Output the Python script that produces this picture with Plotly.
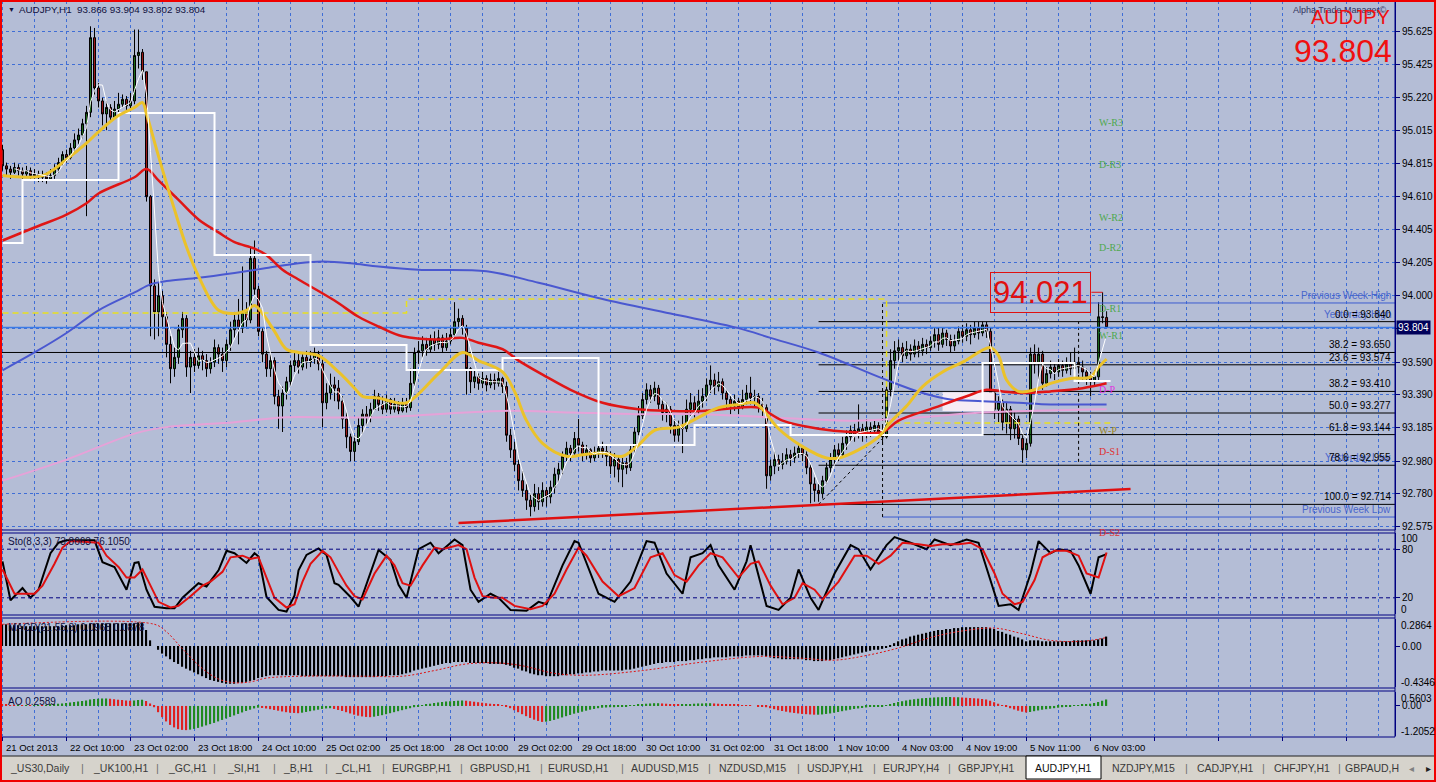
import plotly.graph_objects as go

# ---------------------------------------------------------------- data
symbol = "AUDJPY,H1"
title_values = "93.866 93.904 93.802 93.804"

time_labels = ["21 Oct 2013", "22 Oct 10:00", "23 Oct 02:00", "23 Oct 18:00", "24 Oct 10:00",
               "25 Oct 02:00", "25 Oct 18:00", "28 Oct 10:00", "29 Oct 02:00", "29 Oct 18:00",
               "30 Oct 10:00", "31 Oct 02:00", "31 Oct 18:00", "1 Nov 10:00", "4 Nov 03:00",
               "4 Nov 19:00", "5 Nov 11:00", "6 Nov 03:00"]
time_label_bars = [0, 16, 32, 48, 64, 80, 96, 112, 128, 144, 160, 176, 192, 208, 224, 240, 256, 272]

price_ticks = [95.625, 95.425, 95.220, 95.015, 94.815, 94.610, 94.405, 94.205, 94.000,
               93.795, 93.590, 93.390, 93.185, 92.980, 92.780, 92.575]
price_tick_text = ["95.625", "95.425", "95.220", "95.015", "94.815", "94.610", "94.405", "94.205",
                   "94.000", "", "93.590", "93.390", "93.185", "92.980", "92.780", "92.575"]

first_open = 94.90
close = [
    94.80, 94.78, 94.76, 94.79, 94.77, 94.75, 94.77, 94.74, 94.75, 94.73,
    94.74, 94.72, 94.74, 94.78, 94.82, 94.87, 94.85, 94.91, 94.96, 94.99,
    95.06, 95.13, 95.59, 95.28, 95.20, 95.12, 95.16, 95.10, 95.15, 95.18,
    95.21, 95.17, 95.20, 95.48, 95.50, 95.38, 94.61, 94.06, 93.90, 94.00,
    93.87, 93.70, 93.55, 93.62, 93.79, 93.86, 93.56, 93.62, 93.57, 93.63,
    93.60, 93.55, 93.59, 93.68, 93.64, 93.60, 93.70, 93.79, 93.85, 93.80,
    93.90, 93.85, 94.23, 94.04, 93.78, 93.64, 93.55, 93.60, 93.38, 93.32,
    93.40, 93.47, 93.57, 93.60, 93.56, 93.62, 93.59, 93.61, 93.64, 93.58,
    93.34, 93.40, 93.45, 93.43, 93.35, 93.24, 93.13, 93.04, 93.10, 93.20,
    93.27, 93.25, 93.30, 93.38, 93.33, 93.30, 93.36, 93.30, 93.33, 93.29,
    93.34, 93.31, 93.46, 93.65, 93.66, 93.70, 93.67, 93.73, 93.70, 93.74,
    93.68, 93.72, 93.76, 93.84, 93.86, 93.80, 93.55, 93.47, 93.50, 93.46,
    93.49, 93.45, 93.48, 93.46, 93.49, 93.44, 93.14, 93.05, 92.96, 92.86,
    92.80, 92.74, 92.70, 92.78, 92.73, 92.80, 92.76, 92.82, 92.90, 92.93,
    93.01, 93.06, 93.03, 93.12, 93.08, 93.02, 93.05, 93.00, 93.03, 93.06,
    93.04, 93.01, 92.95, 92.99, 92.93, 92.97, 92.94, 93.05, 93.16, 93.26,
    93.36, 93.42, 93.38, 93.43, 93.33, 93.28, 93.30, 93.20, 93.14, 93.20,
    93.18, 93.30, 93.34, 93.29, 93.35, 93.38, 93.45, 93.48, 93.44, 93.47,
    93.40, 93.36, 93.32, 93.35, 93.31, 93.36, 93.40, 93.37, 93.38, 93.33,
    93.31, 92.89, 92.95, 92.99, 92.96, 92.98, 93.02, 93.00, 93.03, 93.06,
    93.02, 92.94, 92.84, 92.80, 92.78, 92.86, 92.94, 92.99, 93.05, 93.02,
    93.09, 93.13, 93.17, 93.14, 93.18, 93.15, 93.19, 93.17, 93.20, 93.16,
    93.13, 93.42, 93.60, 93.66, 93.68, 93.63, 93.67, 93.64, 93.69, 93.66,
    93.70, 93.68, 93.72, 93.76, 93.70, 93.77, 93.73, 93.69, 93.72, 93.78,
    93.75, 93.79, 93.76, 93.80, 93.77, 93.82, 93.78, 93.40, 93.30, 93.34,
    93.22, 93.30, 93.18, 93.24, 93.12, 93.05, 93.09, 93.64, 93.58, 93.64,
    93.46, 93.52, 93.56, 93.53, 93.57, 93.54, 93.58, 93.55, 93.59, 93.56,
    93.53, 93.50, 93.47, 93.50, 93.87, 93.866, 93.804]
high = [
    94.93, 94.82, 94.80, 94.82, 94.81, 94.79, 94.80, 94.79, 94.78, 94.77,
    94.77, 94.76, 94.78, 94.81, 94.85, 94.89, 94.90, 94.94, 95.00, 95.03,
    95.09, 95.17, 95.66, 95.65, 95.31, 95.22, 95.20, 95.18, 95.20, 95.25,
    95.24, 95.23, 95.25, 95.64, 95.64, 95.52, 95.38, 94.62, 94.10, 94.08,
    94.03, 93.90, 93.75, 93.68, 93.82, 93.90, 93.88, 93.66, 93.67, 93.68,
    93.66, 93.64, 93.62, 93.73, 93.70, 93.68, 93.73, 93.84, 93.90, 93.98,
    94.18, 93.96, 94.30, 94.34, 94.06, 93.80, 93.66, 93.64, 93.62, 93.42,
    93.44, 93.50, 93.60, 93.66, 93.64, 93.65, 93.66, 93.66, 93.68, 93.66,
    93.62, 93.46, 93.52, 93.50, 93.48, 93.38, 93.28, 93.15, 93.14, 93.25,
    93.30, 93.32, 93.34, 93.42, 93.40, 93.38, 93.39, 93.37, 93.37, 93.35,
    93.37, 93.37, 93.55, 93.68, 93.72, 93.75, 93.74, 93.76, 93.78, 93.79,
    93.76, 93.77, 93.80, 93.96, 93.92, 93.88, 93.82, 93.56, 93.54, 93.52,
    93.53, 93.51, 93.52, 93.52, 93.53, 93.50, 93.47, 93.18, 93.10, 92.99,
    92.92, 92.84, 92.78, 92.84, 92.82, 92.85, 92.82, 92.86, 92.94, 92.97,
    93.04, 93.10, 93.08, 93.16, 93.24, 93.10, 93.08, 93.06, 93.07, 93.09,
    93.10, 93.08, 93.04, 93.03, 93.01, 93.00, 93.00, 93.08, 93.19, 93.32,
    93.40, 93.46, 93.45, 93.47, 93.45, 93.36, 93.34, 93.32, 93.24, 93.23,
    93.26, 93.36, 93.40, 93.38, 93.42, 93.43, 93.49, 93.57, 93.52, 93.53,
    93.49, 93.42, 93.38, 93.39, 93.37, 93.42, 93.45, 93.50, 93.42, 93.40,
    93.37, 93.33, 92.99, 93.04, 93.02, 93.03, 93.06, 93.05, 93.07, 93.09,
    93.08, 93.04, 92.96, 92.88, 92.84, 92.89, 92.97, 93.03, 93.08, 93.09,
    93.13, 93.17, 93.20, 93.21, 93.33, 93.21, 93.24, 93.22, 93.24, 93.22,
    93.20, 93.45, 93.67, 93.72, 93.73, 93.71, 93.72, 93.70, 93.73, 93.72,
    93.74, 93.73, 93.75, 93.80, 93.80, 93.80, 93.79, 93.76, 93.76, 93.81,
    93.82, 93.83, 93.82, 93.84, 93.84, 93.84, 93.84, 93.80, 93.42, 93.38,
    93.36, 93.34, 93.32, 93.28, 93.26, 93.14, 93.12, 93.68, 93.70, 93.68,
    93.66, 93.56, 93.60, 93.59, 93.61, 93.60, 93.62, 93.65, 93.68, 93.62,
    93.60, 93.55, 93.53, 93.54, 93.96, 94.021, 93.904]
low = [
    94.77, 94.74, 94.72, 94.75, 94.74, 94.66, 94.73, 94.71, 94.72, 94.70,
    94.70, 94.69, 94.71, 94.72, 94.76, 94.80, 94.82, 94.84, 94.89, 94.93,
    94.97, 94.49, 95.10, 95.24, 95.16, 95.05, 95.02, 95.07, 95.09, 95.13,
    95.16, 95.14, 95.15, 95.18, 95.40, 95.33, 94.58, 93.75, 93.73, 93.75,
    93.80, 93.62, 93.46, 93.50, 93.58, 93.74, 93.50, 93.40, 93.53, 93.55,
    93.54, 93.50, 93.52, 93.56, 93.58, 93.53, 93.56, 93.66, 93.74, 93.70,
    93.77, 93.80, 93.83, 94.00, 93.75, 93.59, 93.50, 93.50, 93.33, 93.18,
    93.16, 93.36, 93.44, 93.53, 93.52, 93.54, 93.55, 93.56, 93.58, 93.54,
    93.19, 93.30, 93.36, 93.35, 93.30, 93.18, 93.06, 92.98, 92.98, 93.08,
    93.15, 93.20, 93.22, 93.30, 93.29, 93.27, 93.28, 93.27, 93.28, 93.27,
    93.28, 93.28, 93.29, 93.44, 93.58, 93.62, 93.63, 93.65, 93.66, 93.67,
    93.65, 93.66, 93.70, 93.74, 93.80, 93.76, 93.39, 93.40, 93.43, 93.42,
    93.43, 93.41, 93.43, 93.42, 93.44, 93.40, 93.10, 93.00, 92.92, 92.80,
    92.76, 92.68, 92.64, 92.67, 92.68, 92.70, 92.70, 92.72, 92.78, 92.85,
    92.90, 92.98, 92.98, 93.02, 93.04, 92.98, 92.99, 92.97, 92.98, 93.00,
    93.00, 92.95, 92.90, 92.88, 92.85, 92.82, 92.90, 92.92, 93.03, 93.14,
    93.24, 93.33, 93.34, 93.35, 93.30, 93.23, 93.22, 93.15, 93.10, 93.10,
    93.03, 93.16, 93.26, 93.25, 93.27, 93.31, 93.35, 93.40, 93.39, 93.41,
    93.36, 93.30, 93.27, 93.29, 93.27, 93.30, 93.33, 93.33, 93.32, 93.28,
    93.25, 92.81, 92.86, 92.90, 92.92, 92.93, 92.96, 92.95, 92.97, 93.00,
    92.98, 92.90, 92.72, 92.73, 92.73, 92.75, 92.84, 92.91, 92.96, 92.98,
    93.00, 93.05, 93.10, 93.10, 93.12, 93.10, 93.12, 93.13, 93.14, 93.12,
    93.08, 93.12, 93.38, 93.55, 93.60, 93.59, 93.61, 93.60, 93.62, 93.62,
    93.63, 93.64, 93.66, 93.68, 93.66, 93.68, 93.69, 93.65, 93.66, 93.70,
    93.71, 93.72, 93.70, 93.74, 93.73, 93.75, 93.74, 93.36, 93.24, 93.22,
    93.17, 93.15, 93.11, 93.12, 93.08, 92.97, 93.00, 93.07, 93.52, 93.48,
    93.42, 93.44, 93.49, 93.48, 93.50, 93.50, 93.52, 93.51, 93.53, 93.52,
    93.48, 93.45, 93.38, 93.44, 93.47, 93.83, 93.802]

# moving averages (bar index, price)
yellow_bar = [0, 10, 16, 21, 24, 29, 33, 35, 36, 39, 43, 46, 49, 54, 58, 61, 63, 65, 68, 71, 74, 79,
              84, 88, 90, 94, 97, 101, 109, 115, 119, 125, 128, 131, 135, 141, 145, 150, 155, 159,
              163, 169, 174, 179, 184, 188, 190, 194, 200, 206, 209, 214, 219, 222, 226, 230, 235,
              240, 247, 249, 251, 254, 258, 262, 267, 272, 274, 276]
yellow_val = [94.74, 94.74, 94.84, 94.94, 95.01, 95.11, 95.16, 95.19, 95.12, 94.86, 94.53, 94.30,
              94.12, 93.91, 93.89, 93.91, 93.94, 93.89, 93.78, 93.67, 93.65, 93.63, 93.53, 93.43,
              93.38, 93.37, 93.35, 93.34, 93.52, 93.65, 93.60, 93.53, 93.41, 93.23, 93.09, 93.01,
              93.02, 93.03, 93.01, 93.08, 93.17, 93.19, 93.25, 93.31, 93.33, 93.34, 93.30, 93.18,
              93.07, 93.00, 93.00, 93.05, 93.13, 93.22, 93.32, 93.44, 93.53, 93.59, 93.68, 93.63,
              93.48, 93.41, 93.42, 93.46, 93.49, 93.50, 93.56, 93.61]
red_bar = [0, 8, 16, 21, 24, 33, 36, 39, 44, 49, 54, 58, 63, 66, 70, 74, 83, 89, 94, 100, 109, 115,
           119, 125, 129, 136, 142, 150, 159, 167, 175, 184, 189, 195, 204, 212, 220, 224, 233, 241,
           246, 250, 255, 262, 270, 276]
red_val = [94.34, 94.42, 94.50, 94.57, 94.63, 94.73, 94.78, 94.71, 94.59, 94.47, 94.39, 94.33, 94.29,
           94.25, 94.16, 94.10, 93.97, 93.87, 93.81, 93.75, 93.73, 93.74, 93.71, 93.67, 93.60, 93.50,
           93.42, 93.34, 93.30, 93.29, 93.29, 93.31, 93.31, 93.23, 93.18, 93.16, 93.16, 93.23, 93.31,
           93.38, 93.42, 93.41, 93.40, 93.41, 93.43, 93.46]
blue_bar = [0, 8, 16, 24, 33, 37, 41, 49, 58, 66, 74, 80, 87, 94, 104, 121, 134, 150, 167, 184, 192,
            204, 220, 230, 237, 245, 254, 262, 276]
blue_val = [93.54, 93.65, 93.77, 93.91, 94.02, 94.07, 94.09, 94.11, 94.14, 94.17, 94.20, 94.21, 94.20,
            94.18, 94.16, 94.15, 94.08, 93.98, 93.89, 93.80, 93.74, 93.65, 93.49, 93.40, 93.36, 93.35,
            93.34, 93.33, 93.33]
pink_bar = [0, 16, 33, 41, 58, 70, 83, 94, 125, 142, 159, 175, 192, 212, 229, 245, 276]
pink_val = [92.86, 92.99, 93.15, 93.19, 93.22, 93.25, 93.25, 93.25, 93.29, 93.28, 93.27, 93.27, 93.25,
            93.23, 93.25, 93.28, 93.30]

# daily level (white step line) and weekly pivot (yellow dashed)
day_start = [0, 5, 29, 53, 77, 101, 125, 149, 173, 197, 221, 245, 268]
day_level = [94.325, 94.713, 95.126, 94.251, 93.696, 93.542, 93.616, 93.080, 93.203, 93.142, 93.142,
             93.585, 93.474]
week_start = [0, 101, 221]
week_pivot = [93.893, 93.980, 93.216]

# Fibonacci levels
fib_names = ["0.0", "38.2", "23.6", "38.2", "50.0", "61.8", "78.6", "100.0"]
fib_levels = [93.840, 93.650, 93.574, 93.410, 93.277, 93.144, 92.955, 92.714]
fib_start = [204, -1, 204, 204, 204, 204, 204, 204]
yesterday_high = 93.840
yesterday_low = 92.955
prev_week_high = 93.955
prev_week_low = 92.636
week_open_bar = 220

# pivot labels
pivot_names = ["W-R3", "D-R3", "W-R2", "D-R2", "D-R1", "W-R1", "D-P", "W-P", "D-S1", "D-S2"]
pivot_levels = [95.114, 94.855, 94.528, 94.343, 93.967, 93.801, 93.468, 93.216, 93.086, 92.587]
pivot_colors = ["#4FA84F", "#4FA84F", "#4FA84F", "#4FA84F", "#4FA84F", "#4FA84F", "#E030E0",
                "#9A8420", "#E03030", "#E03030"]

# trend lines / objects
trend_bar = [114, 282]
trend_val = [92.599, 92.809]
fibline_bar = [204, 220]
fibline_val = [92.714, 93.120]
vline_bar = [220, 269]
vline_top = [93.955, 93.840]
vline_bot = [92.636, 92.976]
box_bar = [235, 248]
box_val = [93.290, 93.405]
price_label_bar = 275

# Stochastic (8,3,3)
sto_bar = [0, 2, 5, 7, 9, 12, 14, 16, 23, 25, 28, 29, 31, 33, 34, 36, 38, 41, 43, 45, 49, 51, 54, 56,
           58, 61, 63, 64, 66, 69, 71, 73, 74, 76, 79, 81, 83, 84, 87, 89, 91, 94, 97, 99, 101, 104,
           107, 109, 113, 115, 117, 119, 122, 124, 127, 131, 134, 136, 140, 143, 144, 149, 153, 157,
           161, 163, 166, 170, 172, 175, 177, 179, 183, 186, 187, 191, 194, 197, 199, 202, 204, 208,
           212, 214, 217, 221, 223, 227, 231, 233, 237, 241, 244, 247, 249, 252, 254, 257, 259, 262,
           264, 267, 269, 272, 274, 276]
sto_main = [65, 17, 32, 20, 30, 75, 88, 91, 91, 64, 58, 48, 30, 63, 64, 30, 9, 7, 7, 20, 38, 34, 54,
            78, 75, 63, 75, 71, 21, 5, 3, 23, 54, 73, 81, 73, 38, 36, 21, 9, 38, 79, 67, 36, 20, 80,
            88, 75, 92, 85, 30, 15, 25, 20, 5, 4, 15, 12, 60, 90, 88, 25, 15, 40, 90, 88, 50, 25, 70,
            75, 85, 60, 30, 65, 85, 10, 5, 20, 55, 20, 5, 50, 85, 80, 55, 85, 95, 88, 80, 92, 85, 92,
            88, 40, 10, 12, 5, 50, 90, 75, 80, 78, 60, 25, 70, 74]
sig_bar = [0, 3, 6, 8, 10, 13, 15, 17, 24, 26, 29, 31, 33, 35, 37, 39, 42, 44, 47, 50, 52, 55, 57, 60,
           62, 64, 66, 68, 71, 73, 75, 77, 80, 82, 84, 86, 88, 90, 93, 96, 98, 100, 102, 105, 108,
           110, 114, 116, 118, 120, 123, 125, 128, 132, 135, 138, 141, 144, 146, 150, 154, 158, 162,
           165, 168, 171, 174, 177, 180, 184, 187, 189, 192, 195, 198, 200, 203, 205, 209, 213, 216,
           219, 222, 225, 229, 232, 235, 239, 242, 245, 248, 250, 253, 255, 258, 260, 263, 266, 269,
           271, 274, 276]
sto_signal = [55, 25, 25, 25, 35, 62, 82, 90, 88, 72, 58, 45, 45, 55, 35, 15, 8, 10, 22, 35, 40, 52,
              70, 72, 68, 70, 45, 20, 8, 12, 40, 62, 78, 70, 52, 35, 22, 18, 50, 72, 60, 38, 35, 60,
              82, 80, 85, 80, 45, 22, 20, 20, 10, 6, 10, 25, 55, 82, 72, 40, 22, 32, 70, 75, 48, 40,
              60, 75, 70, 45, 62, 65, 35, 12, 20, 38, 30, 18, 40, 72, 72, 62, 72, 88, 86, 84, 86, 86,
              88, 80, 50, 25, 12, 15, 42, 70, 78, 78, 72, 50, 45, 76]

# MACD (21,55,8) main histogram, one value per bar
macd_main = [
    0.23, 0.23, 0.22, 0.22, 0.22, 0.21, 0.21, 0.21, 0.21, 0.21, 0.21, 0.21, 0.21, 0.21, 0.21, 0.22,
    0.22, 0.22, 0.22, 0.23, 0.23, 0.23, 0.24, 0.24, 0.24, 0.24, 0.24, 0.24, 0.24, 0.24, 0.24, 0.24,
    0.24, 0.24, 0.25, 0.25,
    0.17, 0.06, 0.00, -0.04, -0.08, -0.11, -0.14, -0.17, -0.19, -0.22, -0.24, -0.26, -0.28, -0.30,
    -0.32, -0.34, -0.36, -0.37, -0.38, -0.39, -0.40, -0.40, -0.40, -0.39, -0.39, -0.38, -0.37, -0.36,
    -0.34, -0.33, -0.32, -0.31, -0.31, -0.31,
    -0.31, -0.31, -0.31, -0.31, -0.31, -0.32, -0.32, -0.32, -0.32, -0.32, -0.32, -0.32, -0.32, -0.32,
    -0.32, -0.32, -0.33, -0.33, -0.33, -0.33, -0.33, -0.33, -0.33, -0.33, -0.32, -0.32, -0.32, -0.31,
    -0.31, -0.31,
    -0.30, -0.29, -0.28, -0.26, -0.25, -0.24, -0.23, -0.22, -0.21, -0.20, -0.19, -0.18, -0.18, -0.17,
    -0.17, -0.17, -0.17, -0.18, -0.18, -0.18, -0.18, -0.18, -0.19, -0.19, -0.19, -0.19,
    -0.20, -0.21, -0.23, -0.24, -0.26, -0.27, -0.29, -0.30, -0.31, -0.31, -0.32, -0.32, -0.32, -0.32,
    -0.31, -0.31, -0.30, -0.30, -0.29, -0.29, -0.28, -0.28, -0.27, -0.27, -0.26,
    -0.26, -0.26, -0.26, -0.26, -0.26, -0.25, -0.25, -0.24, -0.23, -0.22, -0.21, -0.20, -0.19, -0.18,
    -0.18, -0.17, -0.17, -0.17, -0.16, -0.16, -0.16, -0.15, -0.15, -0.14, -0.14, -0.13, -0.13, -0.12,
    -0.12, -0.12, -0.12, -0.11, -0.11, -0.11, -0.11, -0.10, -0.10, -0.10, -0.10, -0.10,
    -0.11, -0.12, -0.13, -0.13, -0.14, -0.14, -0.14, -0.14, -0.14, -0.14, -0.15, -0.15, -0.16, -0.16,
    -0.16, -0.15, -0.15, -0.14, -0.13, -0.12, -0.11, -0.10, -0.09, -0.08, -0.07, -0.06, -0.05, -0.04,
    -0.04, -0.03, -0.02, 0.01,
    0.03, 0.05, 0.07, 0.08, 0.10, 0.11, 0.12, 0.13, 0.14, 0.15, 0.16, 0.17, 0.17, 0.18, 0.18, 0.19,
    0.19, 0.20, 0.20, 0.20, 0.20, 0.20, 0.20, 0.20, 0.19,
    0.18, 0.16, 0.15, 0.13, 0.12, 0.10, 0.09, 0.07, 0.05, 0.06, 0.06, 0.06, 0.05, 0.05, 0.05, 0.05,
    0.05, 0.05, 0.05, 0.05, 0.06, 0.06, 0.06, 0.06, 0.06, 0.06, 0.07, 0.08, 0.10]
macd_sig_bar = [0, 38, 41, 45, 50, 54, 58, 62, 66, 75, 90, 100, 108, 116, 124, 130, 138, 146, 160,
                175, 190, 200, 208, 216, 224, 232, 240, 248, 255, 262, 270, 276]
macd_signal = [0.23, 0.23, 0.15, -0.03, -0.24, -0.35, -0.39, -0.38, -0.34, -0.32, -0.32, -0.32, -0.26,
               -0.19, -0.18, -0.21, -0.29, -0.31, -0.26, -0.17, -0.11, -0.13, -0.15, -0.10, -0.02,
               0.09, 0.16, 0.19, 0.13, 0.06, 0.05, 0.09]

# Awesome Oscillator, one value per bar
ao_vals = [
    0.05, 0.04, 0.03, 0.02, 0.03, 0.02, 0.02, 0.01, 0.02, 0.03, 0.02, 0.03, 0.05, 0.07, 0.09, 0.10,
    0.12, 0.14, 0.16, 0.18, 0.20,
    0.22, 0.26, 0.28, 0.29, 0.30, 0.30, 0.29, 0.27, 0.25, 0.24, 0.22, 0.21, 0.22, 0.24, 0.25, 0.20,
    0.10,
    -0.05, -0.25, -0.45, -0.62, -0.76, -0.86, -0.93, -0.96, -0.97,
    -0.95, -0.92, -0.88, -0.83, -0.78, -0.73, -0.68, -0.62, -0.56, -0.50, -0.44, -0.38, -0.32, -0.26,
    -0.20, -0.15, -0.10, -0.07,
    -0.08, -0.10, -0.13, -0.16, -0.19, -0.22, -0.25, -0.27, -0.28, -0.29,
    -0.27, -0.24, -0.21, -0.18, -0.15, -0.12, -0.10, -0.09,
    -0.12, -0.16, -0.20, -0.25, -0.30, -0.35, -0.39, -0.42, -0.44, -0.45,
    -0.43, -0.40, -0.37, -0.33, -0.29, -0.25, -0.21, -0.17,
    -0.13, -0.09, -0.05, -0.01, 0.03, 0.06, 0.09, 0.12, 0.14, 0.16, 0.18, 0.19, 0.20, 0.21, 0.22,
    0.21, 0.19, 0.17, 0.15, 0.13, 0.11, 0.09, 0.07, 0.05, 0.03,
    -0.02, -0.09, -0.17, -0.25, -0.33, -0.41, -0.48, -0.55, -0.60, -0.64,
    -0.63, -0.60, -0.56, -0.51, -0.46, -0.41, -0.36, -0.31, -0.27, -0.23, -0.19, -0.15, -0.12, -0.09,
    -0.07,
    -0.06, -0.05, -0.05, -0.04, -0.03, -0.01, 0.01, 0.03, 0.05, 0.07, 0.09, 0.10, 0.11, 0.11, 0.10,
    0.09, 0.08, 0.07, 0.06, 0.06, 0.07, 0.08, 0.09, 0.10, 0.10,
    0.11, 0.11, 0.10, 0.09, 0.08, 0.07, 0.06, 0.05, 0.04, 0.03, 0.02, 0.01, 0.00, -0.01, -0.02,
    -0.05, -0.09, -0.13, -0.17, -0.20, -0.23, -0.26, -0.28, -0.30, -0.32, -0.33, -0.34, -0.35, -0.35,
    -0.34,
    -0.32, -0.30, -0.27, -0.24, -0.21, -0.18, -0.15, -0.12, -0.10, -0.08, -0.06, -0.04, -0.03, -0.02,
    -0.01,
    0.03, 0.08, 0.12, 0.16, 0.19, 0.22, 0.25, 0.27, 0.29, 0.31, 0.32, 0.33, 0.34, 0.35, 0.35, 0.36,
    0.36, 0.35, 0.35, 0.34,
    0.33, 0.32, 0.31, 0.30, 0.28, 0.26, 0.21, 0.15, 0.09, 0.03, -0.03, -0.09, -0.14, -0.19, -0.23,
    -0.26,
    -0.24, -0.21, -0.18, -0.15, -0.13, -0.11, -0.09, -0.07, -0.05, -0.03, -0.01, 0.01, 0.03, 0.05,
    0.07, 0.09, 0.12, 0.16, 0.21, 0.26]

sto_label = "Sto(8,3,3) 73.8663 76.1050"
macd_label = "MACD(21,55,8) 0.0968 0.0878"
ao_label = "AO 0.2589"
macd_max, macd_min = 0.2864, -0.4346
ao_max, ao_min = 0.5603, -1.2052

tab_names = ["_US30,Daily", "_UK100,H1", "_GC,H1", "_SI,H1", "_B,H1", "_CL,H1", "EURGBP,H1",
             "GBPUSD,H1", "EURUSD,H1", "AUDUSD,M15", "NZDUSD,M15", "USDJPY,H1", "EURJPY,H4",
             "GBPJPY,H1", "AUDJPY,H1", "NZDJPY,M15", "CADJPY,H1", "CHFJPY,H1", "GBPAUD,H"]
active_tab = "AUDJPY,H1"

# ---------------------------------------------------------------- layout constants
W, H = 1436, 782
BG = "#B4BDD6"
GRID = "#3F6ED6"
NAVY = "#000080"
FONT = "Liberation Sans, Arial, sans-serif"
SERIF = "Liberation Serif, Times New Roman, serif"
PLOT_R = 1395
XR = [-0.625, 348.1]
tab_centers = [40, 120, 187, 243, 298, 353, 421, 500, 578, 665, 752, 835, 912, 987, 1063, 1143,
               1225, 1302, 1372]
tab_seps = [82, 157, 215, 274, 326, 383, 461, 541, 622, 709, 798, 874, 949, 1186, 1263, 1339]


def fx(px):
    return px / W


def fy(py):
    return 1 - py / H


n = len(close)
bars = list(range(n))
opens = [first_open] + close[:-1]

fig = go.Figure()

# ---- horizontal objects (behind candles)
for lvl, st in zip(fib_levels, fib_start):
    fig.add_trace(go.Scatter(x=[st, 360], y=[lvl, lvl], mode="lines",
                             line=dict(color="black", width=1), xaxis="x", yaxis="y"))
for lvl in (prev_week_high, prev_week_low):
    fig.add_trace(go.Scatter(x=[week_open_bar, 360], y=[lvl, lvl], mode="lines",
                             line=dict(color="#3B5BD0", width=1), xaxis="x", yaxis="y"))
wx = week_start + [278]
wy = week_pivot + [week_pivot[-1]]
fig.add_trace(go.Scatter(x=wx, y=wy, mode="lines", line=dict(color="#E8E020", width=1.5, dash="6px,4px",
                                                              shape="hv"), xaxis="x", yaxis="y"))
for b, t, bt in zip(vline_bar, vline_top, vline_bot):
    fig.add_trace(go.Scatter(x=[b, b], y=[bt, t], mode="lines",
                             line=dict(color="black", width=1, dash="3px,3px"), xaxis="x", yaxis="y"))
fig.add_trace(go.Scatter(x=fibline_bar, y=fibline_val, mode="lines",
                         line=dict(color="black", width=1, dash="3px,3px"), xaxis="x", yaxis="y"))
fig.add_trace(go.Scatter(x=[-1, 360], y=[close[-1], close[-1]], mode="lines",
                         line=dict(color="#3C7BE6", width=1.5), xaxis="x", yaxis="y"))
fig.add_trace(go.Scatter(x=[box_bar[0], box_bar[1], box_bar[1], box_bar[0], box_bar[0]],
                         y=[box_val[0], box_val[0], box_val[1], box_val[1], box_val[0]],
                         mode="lines", fill="toself", fillcolor="#F6ECF4", line=dict(width=0),
                         xaxis="x", yaxis="y"))

# ---- candles
fig.add_trace(go.Candlestick(
    x=bars, open=opens, high=high, low=low, close=close,
    increasing=dict(fillcolor="#1D6E1D", line=dict(color="black", width=1)),
    decreasing=dict(fillcolor="#A01A1A", line=dict(color="black", width=1)),
    whiskerwidth=0, xaxis="x", yaxis="y", hoverinfo="skip"))

# ---- indicators on price
fig.add_trace(go.Scatter(x=pink_bar, y=pink_val, mode="lines",
                         line=dict(color="#E6A2D8", width=2, shape="spline"), xaxis="x", yaxis="y"))
fig.add_trace(go.Scatter(x=blue_bar, y=blue_val, mode="lines",
                         line=dict(color="#4A58D0", width=2, shape="spline"), xaxis="x", yaxis="y"))
fig.add_trace(go.Scatter(x=red_bar, y=red_val, mode="lines",
                         line=dict(color="#E01616", width=2.5, shape="spline"), xaxis="x", yaxis="y"))
dx = day_start + [n]
dy = day_level + [day_level[-1]]
fig.add_trace(go.Scatter(x=dx, y=dy, mode="lines", line=dict(color="white", width=2, shape="hv"),
                         xaxis="x", yaxis="y"))
fig.add_trace(go.Scatter(x=yellow_bar, y=yellow_val, mode="lines",
                         line=dict(color="#EBC22A", width=3, shape="spline"), xaxis="x", yaxis="y"))
# thin white fast moving average of closes (4 bars)
fast_x = list(range(3, n))
fast_y = [sum(close[i - 3:i + 1]) / 4 for i in fast_x]
fig.add_trace(go.Scatter(x=fast_x, y=fast_y, mode="lines", line=dict(color="white", width=1),
                         xaxis="x", yaxis="y"))
fig.add_trace(go.Scatter(x=trend_bar, y=trend_val, mode="lines", line=dict(color="#E01010", width=2.5),
                         xaxis="x", yaxis="y"))
lb = price_label_bar
fig.add_trace(go.Scatter(x=[lb - 2.8, lb], y=[high[lb], high[lb]], mode="lines",
                         line=dict(color="#E01010", width=1), xaxis="x", yaxis="y"))

# ---- stochastic
fig.add_trace(go.Scatter(x=sto_bar, y=sto_main, mode="lines", line=dict(color="black", width=2),
                         xaxis="x2", yaxis="y2"))
fig.add_trace(go.Scatter(x=sig_bar, y=sto_signal, mode="lines", line=dict(color="#E01010", width=2),
                         xaxis="x2", yaxis="y2"))

# ---- MACD
fig.add_trace(go.Bar(x=bars, y=macd_main, width=0.3, marker=dict(color="black", line=dict(width=0)),
                     xaxis="x3", yaxis="y3"))
fig.add_trace(go.Scatter(x=macd_sig_bar, y=macd_signal, mode="lines",
                         line=dict(color="#E01010", width=1, dash="2px,2px", shape="spline"),
                         xaxis="x3", yaxis="y3"))

# ---- AO
ao_colors = ["#1F8A1F" if i > 0 and ao_vals[i] >= ao_vals[i - 1] else "#E02020" for i in range(len(ao_vals))]
fig.add_trace(go.Bar(x=list(range(len(ao_vals))), y=ao_vals, width=0.3,
                     marker=dict(color=ao_colors, line=dict(width=0)), xaxis="x4", yaxis="y4"))

# ---------------------------------------------------------------- axes
major = list(range(0, 349, 16))
minor = list(range(8, 349, 16))


def xaxis_cfg(anchor, bottom=False):
    d = dict(range=XR, domain=[0, fx(PLOT_R)], anchor=anchor, showgrid=True, gridcolor=GRID,
             griddash="3px,3px", gridwidth=1, tickmode="array", tickvals=major, showticklabels=False,
             ticks="outside" if bottom else "", ticklen=4, tickcolor=NAVY, zeroline=False,
             showline=False, fixedrange=True, automargin=False,
             minor=dict(tickvals=minor, showgrid=True, gridcolor=GRID, griddash="3px,3px", gridwidth=1,
                        ticks=""))
    return d


main_dom = [fy(530), fy(1)]
sto_dom = [fy(614), fy(533)]
macd_dom = [fy(687), fy(619)]
ao_dom = [fy(736), fy(692)]

ycommon = dict(side="right", showline=True, linecolor=NAVY, linewidth=1, ticks="outside", ticklen=4,
               tickcolor=NAVY, tickfont=dict(family=FONT, size=10, color="black"), zeroline=False,
               fixedrange=True, automargin=False)

fig.update_layout(
    width=W, height=H, margin=dict(l=0, r=0, t=0, b=0, pad=0, autoexpand=False),
    paper_bgcolor=BG, plot_bgcolor=BG, showlegend=False, hovermode=False, barmode="overlay",
    font=dict(family=FONT, size=10, color="black"),
    xaxis=dict(**xaxis_cfg("y"), rangeslider=dict(visible=False)),
    xaxis2=dict(**xaxis_cfg("y2"), matches="x"),
    xaxis3=dict(**xaxis_cfg("y3"), matches="x"),
    xaxis4=dict(**xaxis_cfg("y4", bottom=True), matches="x"),
    yaxis=dict(**ycommon, domain=main_dom, anchor="x", range=[92.556, 95.816], tickmode="array",
               tickvals=price_ticks, ticktext=price_tick_text, showgrid=True, gridcolor=GRID,
               griddash="3px,3px"),
    yaxis2=dict(**ycommon, domain=sto_dom, anchor="x2", range=[0, 100], tickmode="array",
                tickvals=[80, 20], ticktext=["80", "20"], showgrid=False),
    yaxis3=dict(**ycommon, domain=macd_dom, anchor="x3", range=[macd_min, macd_max], tickmode="array",
                tickvals=[0], ticktext=["0.00"], showgrid=False),
    yaxis4=dict(**ycommon, domain=ao_dom, anchor="x4", range=[ao_min, ao_max], tickmode="array",
                tickvals=[0], ticktext=["0.00"], showgrid=False),
)

# ---------------------------------------------------------------- shapes
shapes = []
for py in (530, 533, 615, 618, 688, 691, 737):
    shapes.append(dict(type="line", xref="paper", yref="paper", x0=0, x1=fx(PLOT_R), y0=fy(py), y1=fy(py),
                       line=dict(color=NAVY, width=1)))
shapes.append(dict(type="line", xref="paper", yref="paper", x0=fx(PLOT_R), x1=fx(PLOT_R), y0=fy(737),
                   y1=1, line=dict(color=NAVY, width=1)))
for lv in (80, 20):
    shapes.append(dict(type="line", xref="paper", yref="y2", x0=0, x1=fx(PLOT_R), y0=lv, y1=lv,
                       line=dict(color=NAVY, width=1, dash="4px,3px")))
shapes.append(dict(type="rect", xref="paper", yref="paper", x0=0, x1=1, y0=0, y1=fy(756),
                   fillcolor="#D6D3CC", line=dict(width=0)))
shapes.append(dict(type="line", xref="paper", yref="paper", x0=0, x1=1, y0=fy(756), y1=fy(756),
                   line=dict(color="#202020", width=1)))
shapes.append(dict(type="rect", xref="paper", yref="paper", x0=fx(1026), x1=fx(1101), y0=fy(779),
                   y1=fy(756), fillcolor="white", line=dict(color="black", width=1)))
shapes.append(dict(type="rect", xref="paper", yref="paper", x0=0, x1=1, y0=0, y1=1,
                   line=dict(color="#F00000", width=4), fillcolor="rgba(0,0,0,0)"))
fig.update_layout(shapes=shapes)

# ---------------------------------------------------------------- annotations
ann = []


def text(x, y, s, size=10, color="black", xanchor="left", yanchor="middle", xref="paper", yref="paper",
         family=FONT, **kw):
    ann.append(dict(x=x, y=y, xref=xref, yref=yref, text=s, showarrow=False, xanchor=xanchor,
                    yanchor=yanchor, font=dict(family=family, size=size, color=color), **kw))


text(fx(6), fy(9), "▼", size=7, color="#101040")
text(fx(17), fy(9), symbol + "  " + title_values, size=9.8, color="#101040")
text(fx(6), fy(541), sto_label, size=10, color="#101040")
text(fx(6), fy(627), macd_label, size=10, color="#101040")
text(fx(6), fy(701), ao_label, size=10, color="#101040")

text(fx(1399), fy(538), "100", size=10)
text(fx(1399), fy(609), "0", size=10)
text(fx(1399), fy(625), "%.4f" % macd_max, size=10)
text(fx(1399), fy(682), "%.4f" % macd_min, size=10)
text(fx(1399), fy(698), "%.4f" % ao_max, size=10)
text(fx(1399), fy(731), "%.4f" % ao_min, size=10)

for b, lab in zip(time_label_bars, time_labels):
    text(b, fy(747), lab, size=9.5, xref="x4", xshift=1)

R = fx(1393)
text(R, yesterday_high, "Yesterday High", color="#4A66CC", xanchor="right", yanchor="bottom", yref="y")
text(R, yesterday_low, "Yesterday Low", color="#4A66CC", xanchor="right", yanchor="bottom", yref="y")
text(R, prev_week_high, "Previous Week High", color="#4A66CC", xanchor="right", yanchor="bottom", yref="y")
text(R, prev_week_low, "Previous Week Low", color="#4A66CC", xanchor="right", yanchor="bottom", yref="y")
for nm, lv in zip(fib_names, fib_levels):
    text(R, lv, "%s = %.3f" % (nm, lv), color="black", xanchor="right", yanchor="bottom", yref="y")

for nm, lv, col in zip(pivot_names, pivot_levels, pivot_colors):
    text(273.5, lv, nm, size=10, color=col, xref="x", yref="y", yanchor="top", family=SERIF)

ann.append(dict(x=lb, y=high[lb], xref="x", yref="y", text="%.3f" % high[lb],
                showarrow=False, xanchor="right", yanchor="middle", xshift=-12,
                font=dict(family=FONT, size=31, color="#E01010"), bordercolor="#E01010", borderwidth=1,
                borderpad=2))

ann.append(dict(x=fx(1396), y=close[-1], xref="paper", yref="y", text="%.3f" % close[-1],
                showarrow=False, xanchor="left", yanchor="middle",
                font=dict(family=FONT, size=10, color="white"), bgcolor="#00005A", borderpad=1))

text(fx(1340), fy(10), "Alpha Trade Manager©", size=9, color="#303060", xanchor="center")
text(fx(1350), fy(17), symbol.split(",")[0], size=20, color="#F01010", xanchor="center")
text(fx(1343), fy(51), "%.3f" % close[-1], size=32, color="#F01010", xanchor="center")

for nm, cx in zip(tab_names, tab_centers):
    text(fx(cx), fy(768), nm, size=10.5, color="#111111" if nm == active_tab else "#3A3A3A",
         xanchor="center")
for sx in tab_seps:
    text(fx(sx), fy(768), "|", size=11, color="#707070", xanchor="center")
text(fx(1411), fy(768), "◂", size=10, color="#808080", xanchor="center")
text(fx(1428), fy(768), "▸", size=10, color="#202020", xanchor="center")

fig.update_layout(annotations=ann)

# remove the browser's default page margin so the figure fills the window exactly
fig.write_html("out.html", config={"displayModeBar": False}, post_script=(
    "document.documentElement.style.margin='0';document.body.style.margin='0';"
    "document.body.style.padding='0';document.body.style.overflow='hidden';"))
